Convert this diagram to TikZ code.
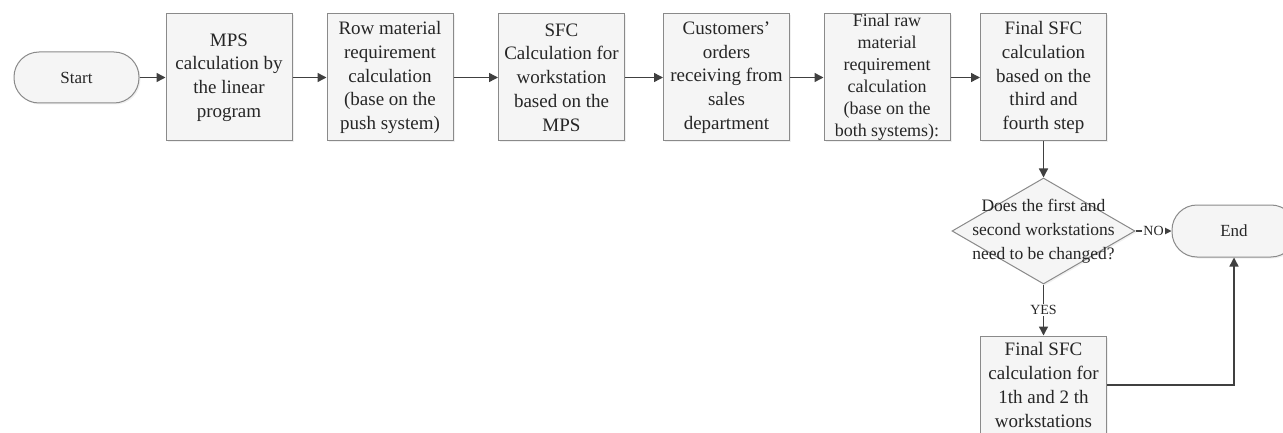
\documentclass[tikz,border=0pt]{standalone}
\usepackage{fontspec}
\setmainfont{Liberation Serif}
\usetikzlibrary{arrows.meta,shapes.geometric,shadows}
\definecolor{boxborder}{HTML}{8A8A8A}
\definecolor{boxfill}{HTML}{F5F5F5}
\definecolor{arr}{HTML}{404040}
\definecolor{txt}{HTML}{262626}
\begin{document}
\begin{tikzpicture}[x=1pt,y=-1pt,
  shade/.style={fill=boxfill, draw=boxborder, line width=1pt, text=txt,
    drop shadow={shadow xshift=1.5pt, shadow yshift=-1.5pt, fill=black, opacity=0.06}},
  box/.style={shade, rectangle, minimum width=126pt, minimum height=127pt, inner sep=0pt,
    align=center, font=\fontsize{19}{23.75}\selectfont},
  pill/.style={shade, rectangle, rounded corners=25pt, minimum width=125pt, minimum height=51pt,
    inner sep=0pt, font=\fontsize{17}{20}\selectfont},
  dia/.style={shade, diamond, minimum width=183pt, minimum height=106pt, inner sep=0pt},
  dtext/.style={align=center, inner sep=0pt, text=txt, font=\fontsize{17.5}{24}\selectfont},
  conn/.style={draw=arr, line width=1.4pt, -{Triangle[length=9pt,width=9pt]}},
  lab/.style={fill=white, inner sep=1pt, text=txt, font=\fontsize{14}{15}\selectfont}]
\useasboundingbox (0,0) rectangle (1283,433);
\clip (0,0) rectangle (1283,433);
\node[pill] (start) at (76.5,77.5) {Start};
\node[box] (b1) at (229,77.5) {MPS\\calculation by\\the linear\\program};
\node[box] (b2) at (390,77.5) {Row material\\requirement\\calculation\\(base on the\\push system)};
\node[box] (b3) at (561.5,77.5) {SFC\\Calculation for\\workstation\\based on the\\MPS};
\node[box] (b4) at (726.5,77.5) {Customers’\\orders\\receiving from\\sales\\department};
\node[box, font=\fontsize{18}{22}\selectfont] (b5) at (887,77.5) {Final raw\\material\\requirement\\calculation\\(base on the\\both systems):};
\node[box] (b6) at (1043.5,77.5) {Final SFC\\calculation\\based on the\\third and\\fourth step};
\node[dia] (d) at (1043.5,231) {};
\node[dtext] (dt) at (d.center) {Does the first and\\second workstations\\need to be changed?};
\node[pill, minimum width=124pt, minimum height=52pt] (end) at (1234,231) {End};
\node[box, minimum height=98pt] (b7) at (1043.5,385) {Final SFC\\calculation for\\1th and 2 th\\workstations};
\draw[conn] (start) -- (b1);
\draw[conn] (b1) -- (b2);
\draw[conn] (b2) -- (b3);
\draw[conn] (b3) -- (b4);
\draw[conn] (b4) -- (b5);
\draw[conn] (b5) -- (b6);
\draw[conn] (b6) -- (d);
\draw[conn] (d.east) -- node[lab] (no) {NO} (end.west);
\draw[conn] (d.south) -- node[lab] (yes) {YES} (b7.north);
\draw[conn] (b7.east) -| (end.south);
\end{tikzpicture}
\end{document}
